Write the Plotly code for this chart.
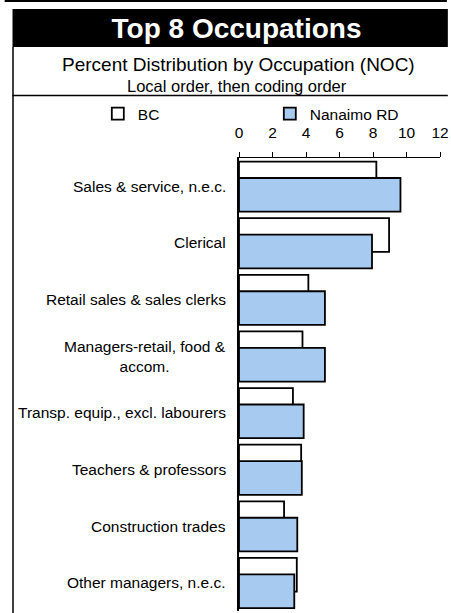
import plotly.graph_objects as go

# Percent distribution by occupation, top 8 occupations
occupations = [
    "Sales & service, n.e.c.",
    "Clerical",
    "Retail sales & sales clerks",
    "Managers-retail, food & accom.",
    "Transp. equip., excl. labourers",
    "Teachers & professors",
    "Construction trades",
    "Other managers, n.e.c.",
]
occupation_labels = [
    "Sales & service, n.e.c.",
    "Clerical",
    "Retail sales & sales clerks",
    "Managers-retail, food &<br>accom.",
    "Transp. equip., excl. labourers",
    "Teachers & professors",
    "Construction trades",
    "Other managers, n.e.c.",
]
bc = [8.20, 8.96, 4.14, 3.79, 3.22, 3.71, 2.69, 3.45]
nanaimo = [9.64, 7.94, 5.13, 5.13, 3.86, 3.75, 3.48, 3.30]
x_ticks = [0, 2, 4, 6, 8, 10, 12]

FONT = "Liberation Sans, Arial, sans-serif"
W_FIG, H_FIG = 451, 613
L, T, W, H = 239, 158, 205, 453


def px_x(px):
    return (px - L) / W


def px_y(py):
    return (T + H - py) / H


fig = go.Figure()
fig.add_trace(go.Bar(
    y=occupations, x=bc, name="BC", orientation="h",
    marker=dict(color="white", line=dict(color="black", width=1.8)),
    offset=-0.437, width=0.595, hoverinfo="x+name"
))
fig.add_trace(go.Bar(
    y=occupations, x=nanaimo, name="Nanaimo RD", orientation="h",
    marker=dict(color="#A6CAF0", line=dict(color="black", width=1.8)),
    offset=-0.147, width=0.595, hoverinfo="x+name"
))

# frame: top rule, black title band, subtitle box
shapes = [
    dict(type="line", xref="paper", yref="paper", x0=px_x(0), x1=px_x(451),
         y0=px_y(1), y1=px_y(1), line=dict(color="black", width=2)),
    dict(type="rect", xref="paper", yref="paper", x0=px_x(8), x1=px_x(452),
         y0=px_y(47), y1=px_y(9), fillcolor="black", line=dict(width=0)),
    dict(type="line", xref="paper", yref="paper", x0=px_x(8.5), x1=px_x(8.5),
         y0=px_y(47), y1=px_y(614), line=dict(color="black", width=1.5)),
    dict(type="line", xref="paper", yref="paper", x0=px_x(8), x1=px_x(452),
         y0=px_y(95.5), y1=px_y(95.5), line=dict(color="black", width=1.5)),
]

annotations = [
    dict(text="Percent Distribution by Occupation (NOC)", xref="paper", yref="paper",
         x=px_x(238), y=px_y(64), showarrow=False, xanchor="center", yanchor="middle",
         font=dict(family=FONT, size=19, color="black")),
    dict(text="Local order, then coding order", xref="paper", yref="paper",
         x=px_x(236.5), y=px_y(86.5), showarrow=False, xanchor="center", yanchor="middle",
         font=dict(family=FONT, size=16.5, color="black")),
]
for occ, lab in zip(occupations, occupation_labels):
    annotations.append(dict(
        text=lab, xref="paper", yref="y", x=0, y=occ, xshift=-11,
        xanchor="right", yanchor="middle", align="center", showarrow=False,
        font=dict(family=FONT, size=15.5, color="black")
    ))

fig.update_layout(
    width=W_FIG, height=H_FIG, autosize=False,
    margin=dict(l=L, r=W_FIG - L - W, t=T, b=H_FIG - T - H, pad=0),
    paper_bgcolor="white", plot_bgcolor="white",
    barmode="overlay",
    font=dict(family=FONT, size=15.5, color="black"),
    title=dict(text="Top 8 Occupations", xref="container", yref="container",
               x=236.5 / W_FIG, y=1 - 28 / H_FIG, xanchor="center", yanchor="middle",
               font=dict(family=FONT, size=28, color="white", weight="bold")),
    legend=dict(orientation="h", x=px_x(95), y=px_y(114), xanchor="left", yanchor="middle",
                entrywidth=127, entrywidthmode="pixels", itemwidth=30,
                bgcolor="rgba(0,0,0,0)", font=dict(family=FONT, size=15.5, color="black")),
    shapes=shapes,
    annotations=annotations,
    showlegend=True,
)
fig.update_xaxes(
    side="top", range=[0, 12], tickvals=x_ticks, ticks="outside", ticklen=5,
    tickwidth=1, tickcolor="black", showline=True, linecolor="black", linewidth=1.2,
    showgrid=False, zeroline=False, ticklabelstandoff=8, ticklabeloverflow="allow",
    tickfont=dict(family=FONT, size=15.5, color="black")
)
fig.update_yaxes(
    type="category", categoryorder="array", categoryarray=occupations,
    range=[7.5, -0.5], showticklabels=False, ticks="", showline=True,
    linecolor="black", linewidth=1.5, showgrid=False, zeroline=False
)

# page body has a default 8px margin; drop it so the figure sits at the window origin
fig.write_html("out.html", config={"displayModeBar": False},
               post_script="document.body.style.margin='0';")
